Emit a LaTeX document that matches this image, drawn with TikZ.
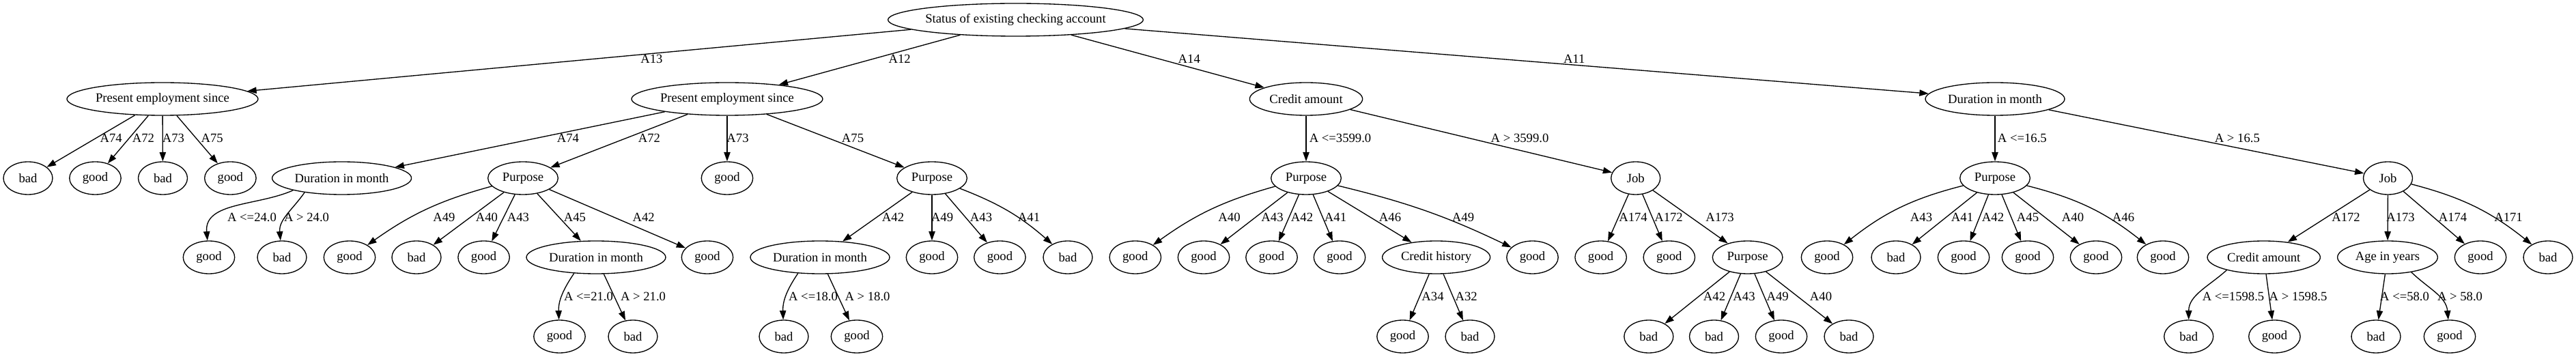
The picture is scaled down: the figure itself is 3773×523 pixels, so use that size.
\documentclass[tikz,border=0pt]{standalone}
\usepackage{fontspec}
\setmainfont{Liberation Serif}
\usepackage{tikz}
\usetikzlibrary{arrows.meta,shapes.geometric}
\tikzset{
  testnode/.style={ellipse, draw, line width=1pt, minimum height=36pt, minimum width=#1, inner xsep=0pt},
  leafnode/.style={ellipse, draw, line width=1pt, minimum height=36pt, minimum width=54pt, inner xsep=6pt},
  branch/.style={line width=1pt, -{Triangle[length=10pt,width=7pt]}},
  branchlabel/.style={inner sep=0pt}
}

\begin{document}
\begin{tikzpicture}[x=0.75pt, y=-0.75pt, every node/.style={font=\fontsize{14pt}{17pt}\selectfont}]
  \useasboundingbox (0,0) rectangle (3773,523);
  % root and first tests
  \node[testnode=271.5pt] (status) at (1487.5,29) {Status of existing checking account};
  \node[testnode=210pt] (emp1) at (238,145) {Present employment since};
  \node[testnode=210pt] (emp2) at (1065,145) {Present employment since};
  \node[testnode=124pt] (amt1) at (1913,145) {Credit amount};
  \node[testnode=153pt] (dur1) at (2922,145) {Duration in month};
  % second level
  \node[leafnode] (e1a) at (41,261) {bad};
  \node[leafnode] (e1b) at (139.5,261) {good};
  \node[leafnode] (e1c) at (238.5,261) {bad};
  \node[leafnode] (e1d) at (337.4,261) {good};
  \node[testnode=153pt] (dur2) at (500.6,261) {Duration in month};
  \node[testnode=77pt] (pur1) at (766,261) {Purpose};
  \node[leafnode] (e2g) at (1065,261) {good};
  \node[testnode=77pt] (pur2) at (1365,261) {Purpose};
  \node[testnode=77pt] (pur3) at (1913,261) {Purpose};
  \node[testnode=54pt] (job1) at (2395.7,261) {Job};
  \node[testnode=77pt] (pur5) at (2922,261) {Purpose};
  \node[testnode=54pt] (job2) at (3497.5,261) {Job};
  % third level
  \node[leafnode] (d2a) at (306,377) {good};
  \node[leafnode] (d2b) at (413,377) {bad};
  \node[leafnode] (p1a) at (512,377) {good};
  \node[leafnode] (p1b) at (610,377) {bad};
  \node[leafnode] (p1c) at (708.6,377) {good};
  \node[testnode=153pt] (dur3) at (873,377) {Duration in month};
  \node[leafnode] (p1e) at (1036,377) {good};
  \node[testnode=153pt] (dur4) at (1201,377) {Duration in month};
  \node[leafnode] (p2b) at (1365,377) {good};
  \node[leafnode] (p2c) at (1464.4,377) {good};
  \node[leafnode] (p2d) at (1564,377) {bad};
  \node[leafnode] (p3a) at (1662.8,377) {good};
  \node[leafnode] (p3b) at (1763,377) {good};
  \node[leafnode] (p3c) at (1862.5,377) {good};
  \node[leafnode] (p3d) at (1962,377) {good};
  \node[testnode=118.5pt] (hist) at (2103.6,377) {Credit history};
  \node[leafnode] (p3f) at (2244.5,377) {good};
  \node[leafnode] (j1a) at (2344.6,377) {good};
  \node[leafnode] (j1b) at (2444.8,377) {good};
  \node[testnode=77pt] (pur4) at (2559.6,377) {Purpose};
  \node[leafnode] (p5a) at (2676,377) {good};
  \node[leafnode] (p5b) at (2777,377) {bad};
  \node[leafnode] (p5c) at (2876,377) {good};
  \node[leafnode] (p5d) at (2970,377) {good};
  \node[leafnode] (p5e) at (3070,377) {good};
  \node[leafnode] (p5f) at (3168,377) {good};
  \node[testnode=124pt] (amt2) at (3315.7,377) {Credit amount};
  \node[testnode=110pt] (age) at (3497,377) {Age in years};
  \node[leafnode] (j2c) at (3633,377) {good};
  \node[leafnode] (j2d) at (3732,377) {bad};
  % fourth level
  \node[leafnode] (d3a) at (819.5,493) {good};
  \node[leafnode] (d3b) at (927,493) {bad};
  \node[leafnode] (d4a) at (1148,493) {bad};
  \node[leafnode] (d4b) at (1255,493) {good};
  \node[leafnode] (h1) at (2054.5,493) {good};
  \node[leafnode] (h2) at (2153,493) {bad};
  \node[leafnode] (p4a) at (2414.8,493) {bad};
  \node[leafnode] (p4b) at (2510.5,493) {bad};
  \node[leafnode] (p4c) at (2609,493) {good};
  \node[leafnode] (p4d) at (2708,493) {bad};
  \node[leafnode] (a2a) at (3205.7,493) {bad};
  \node[leafnode] (a2b) at (3331.4,493) {good};
  \node[leafnode] (g1) at (3480,493) {bad};
  \node[leafnode] (g2) at (3588,493) {good};
  % straight branches
  \foreach \p/\c in {status/emp1, status/emp2, status/amt1, status/dur1,
      emp1/e1a, emp1/e1b, emp1/e1c, emp1/e1d, emp2/dur2, emp2/pur1, emp2/e2g, emp2/pur2,
      amt1/pur3, amt1/job1, dur1/pur5, dur1/job2,
      pur1/p1b, pur1/p1c, pur1/dur3, pur1/p1e, pur2/dur4, pur2/p2b, pur2/p2c,
      pur3/p3b, pur3/p3c, pur3/p3d, pur3/hist, job1/j1a, job1/j1b, job1/pur4,
      pur5/p5b, pur5/p5c, pur5/p5d, pur5/p5e, job2/amt2, job2/age, job2/j2c,
      dur3/d3b, dur4/d4b, hist/h1, hist/h2, pur4/p4a, pur4/p4b, pur4/p4c, pur4/p4d,
      amt2/a2b, age/g1}
    \draw[branch] (\p) -- (\c);
  % curved branches
  \draw[branch] (dur2.194) to[out=204, in=95] (d2a);
  \draw[branch] (dur2.201) to[out=235, in=95] (d2b);
  \draw[branch] (pur1) to[bend right=10] (p1a);
  \draw[branch] (pur2) to[bend left=10] (p2d);
  \draw[branch] (pur3) to[bend right=10] (p3a);
  \draw[branch] (pur3) to[bend left=6] (p3f);
  \draw[branch] (pur5) to[bend right=12] (p5a);
  \draw[branch] (pur5) to[bend left=12] (p5f);
  \draw[branch] (job2) to[bend left=12] (j2d);
  \draw[branch] (dur3.216) to[out=236, in=92] (d3a);
  \draw[branch] (dur4.216) to[out=236, in=92] (d4a);
  \draw[branch] (amt2.199) to[out=222, in=90] (a2a);
  \draw[branch] (age.328) to[out=316, in=95] (g2);
  % branch labels
  \foreach \x/\t [count=\i] in {954.5/A13, 1317.7/A12, 1741.8/A14, 2305.7/A11}
    \node[branchlabel] (la\i) at (\x,86.7) {\t};
  \foreach \x/\t [count=\i] in {162.6/A74, 210/A72, 254/A73, 310.6/A75, 832/A74, 951/A72,
      1080.5/A73, 1249/A75, 1963/A <=3599.0, 2226/A > 3599.0, 2961.8/A <=16.5, 3276.8/A > 16.5}
    \node[branchlabel] (lb\i) at (\x,202.5) {\t};
  \foreach \x/\t [count=\i] in {369/A <=24.0, 449/A > 24.0, 650.5/A49, 713/A40, 759/A43,
      842/A45, 942.6/A42, 1308/A42, 1380/A49, 1437/A43, 1507/A41, 1800.5/A40, 1863.5/A43,
      1907/A42, 1956/A41, 2036/A46, 2143/A49, 2392/A174, 2444/A172, 2519/A173, 2814/A43,
      2874/A41, 2919/A42, 2970/A45, 3036/A40, 3110/A46, 3436/A172, 3516/A173, 3592.5/A174,
      3674/A171}
    \node[branchlabel] (lc\i) at (\x,318) {\t};
  \foreach \x/\t [count=\i] in {862/A <=21.0, 942/A > 21.0, 1191/A <=18.0, 1270.5/A > 18.0,
      2098.5/A34, 2147.6/A32, 2511/A42, 2554.5/A43, 2603.6/A49, 2667/A40,
      3271/A <=1598.5, 3366/A > 1598.5, 3522/A <=58.0, 3603/A > 58.0}
    \node[branchlabel] (ld\i) at (\x,434) {\t};
\end{tikzpicture}
\end{document}
